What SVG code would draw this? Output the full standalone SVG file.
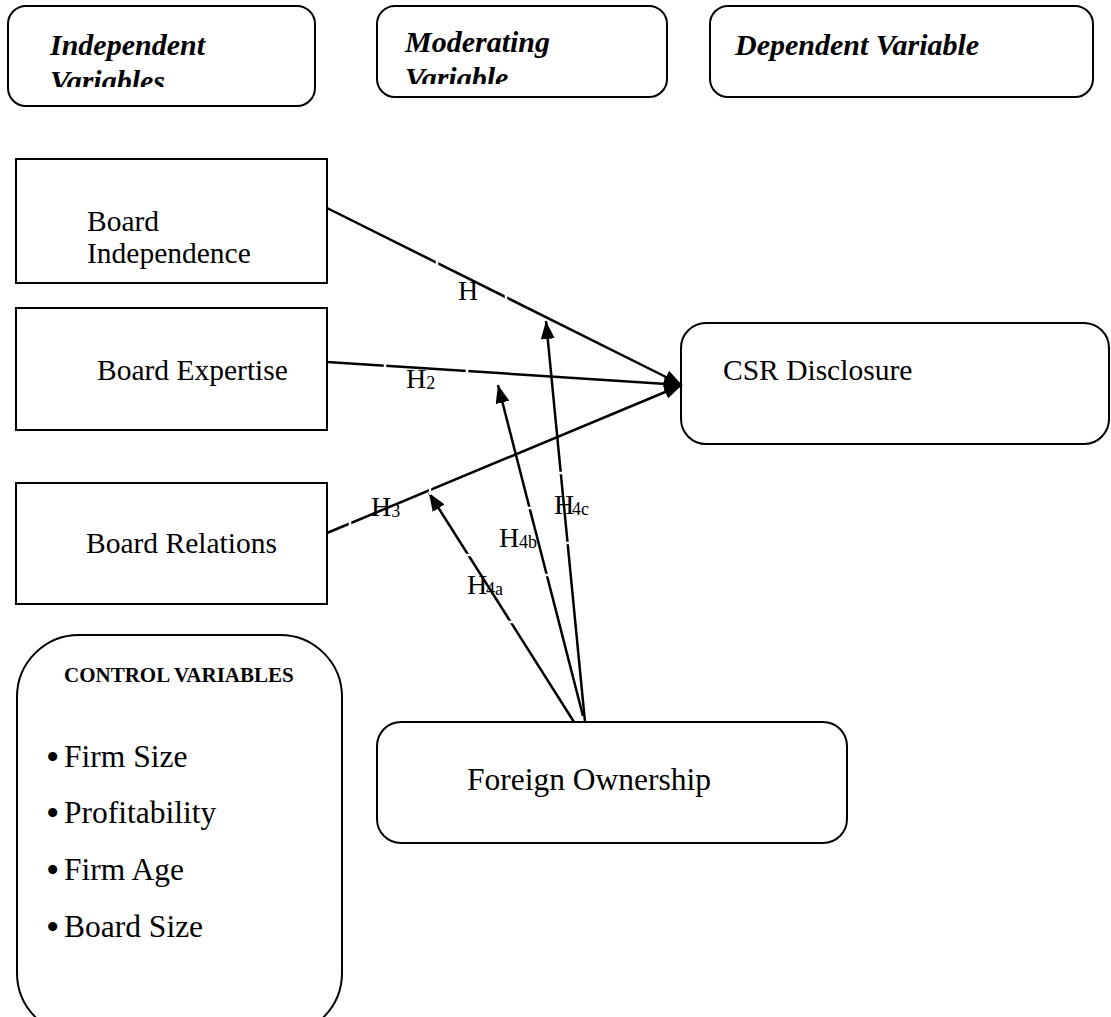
<svg xmlns="http://www.w3.org/2000/svg" width="1111" height="1017" viewBox="0 0 1111 1017">
  <defs>
    <marker id="arr" viewBox="0 0 18 14" refX="18" refY="7" markerWidth="18" markerHeight="14" markerUnits="userSpaceOnUse" orient="auto">
      <path d="M0,0 L18,7 L0,14 Z" fill="#000"/>
    </marker>
    <clipPath id="clipIV"><rect x="0" y="0" width="320" height="87"/></clipPath>
    <clipPath id="clipMV"><rect x="370" y="0" width="300" height="84"/></clipPath>
  </defs>
  <style>
    .box { fill: #fff; stroke: #000; stroke-width: 2; }
    .hdr { font-family: "Liberation Serif", "Times New Roman", serif; font-size: 30px; font-weight: bold; font-style: italic; fill: #000; }
    .lbl { font-family: "Liberation Serif", "Times New Roman", serif; font-size: 29.5px; fill: #000; }
    .big { font-family: "Liberation Serif", "Times New Roman", serif; font-size: 31.5px; fill: #000; }
    .bul { font-size: 38px; }
    .cv { font-family: "Liberation Serif", "Times New Roman", serif; font-size: 21px; font-weight: bold; fill: #000; }
    .h { font-family: "Liberation Serif", "Times New Roman", serif; font-size: 28px; fill: #000; }
    .sub { font-size: 18px; }
    .edge { fill: none; stroke: #000; stroke-width: 2.5; }
    .gap { stroke: #fff; stroke-width: 2.5; }
  </style>

  <rect width="1111" height="1017" fill="#fff"/>

  <g id="hdr-independent">
    <rect class="box" x="8" y="6" width="307" height="100" rx="18"/>
    <g clip-path="url(#clipIV)">
      <text class="hdr" x="50" y="55">Independent</text>
      <text class="hdr" x="50" y="91">Variables</text>
    </g>
  </g>
  <g id="hdr-moderating">
    <rect class="box" x="377" y="6" width="290" height="91" rx="18"/>
    <g clip-path="url(#clipMV)">
      <text class="hdr" x="405" y="52">Moderating</text>
      <text class="hdr" x="405" y="88">Variable</text>
    </g>
  </g>
  <g id="hdr-dependent">
    <rect class="box" x="710" y="6" width="383" height="91" rx="18"/>
    <text class="hdr" x="735" y="55">Dependent Variable</text>
  </g>

  <g id="board-independence">
    <rect class="box" x="16" y="159" width="311" height="124"/>
    <text class="lbl" x="87" y="231">Board</text>
    <text class="lbl" x="87" y="263">Independence</text>
  </g>
  <g id="board-expertise">
    <rect class="box" x="16" y="308" width="311" height="122"/>
    <text class="lbl" x="97" y="380">Board Expertise</text>
  </g>
  <g id="board-relations">
    <rect class="box" x="16" y="483" width="311" height="121"/>
    <text class="lbl" x="86" y="553">Board Relations</text>
  </g>
  <g id="csr-disclosure">
    <rect class="box" x="681" y="323" width="428" height="121" rx="25"/>
    <text class="lbl" x="723" y="380">CSR Disclosure</text>
  </g>
  <g id="foreign-ownership">
    <rect class="box" x="377" y="722" width="470" height="121" rx="24"/>
    <text class="big" x="467" y="790">Foreign Ownership</text>
  </g>
  <g id="control-variables">
    <rect class="box" x="17" y="635" width="325" height="400" rx="62"/>
    <text class="cv" x="64" y="682">CONTROL VARIABLES</text>
    <text class="big" x="46" y="767"><tspan class="bul" dy="3">•</tspan><tspan x="64" dy="-3">Firm Size</tspan></text>
    <text class="big" x="46" y="823"><tspan class="bul" dy="3">•</tspan><tspan x="64" dy="-3">Profitability</tspan></text>
    <text class="big" x="46" y="880"><tspan class="bul" dy="3">•</tspan><tspan x="64" dy="-3">Firm Age</tspan></text>
    <text class="big" x="46" y="937"><tspan class="bul" dy="3">•</tspan><tspan x="64" dy="-3">Board Size</tspan></text>
  </g>

  <g id="connectors">
    <line class="edge" x1="327" y1="208" x2="682" y2="385" marker-end="url(#arr)"/>
    <line class="edge" x1="327" y1="362" x2="682" y2="385" marker-end="url(#arr)"/>
    <line class="edge" x1="327" y1="533" x2="682" y2="385" marker-end="url(#arr)"/>
    <line class="edge" x1="574" y1="722" x2="429" y2="493" marker-end="url(#arr)"/>
    <line class="edge" x1="583" y1="716" x2="498" y2="385" marker-end="url(#arr)"/>
    <line class="edge" x1="585" y1="722" x2="546" y2="321" marker-end="url(#arr)"/>
    <g id="label-frame-gaps">
      <line class="gap" x1="437" y1="259" x2="437" y2="268"/>
      <line class="gap" x1="506" y1="292" x2="506" y2="302"/>
      <line class="gap" x1="385" y1="361" x2="385" y2="370"/>
      <line class="gap" x1="467" y1="368" x2="467" y2="377"/>
      <line class="gap" x1="350" y1="517" x2="350" y2="527"/>
      <line class="gap" x1="430" y1="485" x2="430" y2="495"/>
      <line class="gap" x1="466" y1="555" x2="476" y2="555"/>
      <line class="gap" x1="507" y1="622" x2="517" y2="622"/>
      <line class="gap" x1="524" y1="508" x2="534" y2="508"/>
      <line class="gap" x1="543" y1="575" x2="553" y2="575"/>
      <line class="gap" x1="555" y1="473" x2="565" y2="473"/>
      <line class="gap" x1="562" y1="543" x2="572" y2="543"/>
    </g>
  </g>

  <g id="hypothesis-labels">
    <text class="h" x="458" y="300">H</text>
    <text class="h" x="406" y="388">H<tspan class="sub" dy="1">2</tspan></text>
    <text class="h" x="371" y="516">H<tspan class="sub" dy="1">3</tspan></text>
    <text class="h" x="467" y="594">H<tspan class="sub" x="486" dy="1">4a</tspan></text>
    <text class="h" x="499" y="547">H<tspan class="sub" x="519" dy="1">4b</tspan></text>
    <text class="h" x="554" y="514">H<tspan class="sub" x="572" dy="1">4c</tspan></text>
  </g>
</svg>
